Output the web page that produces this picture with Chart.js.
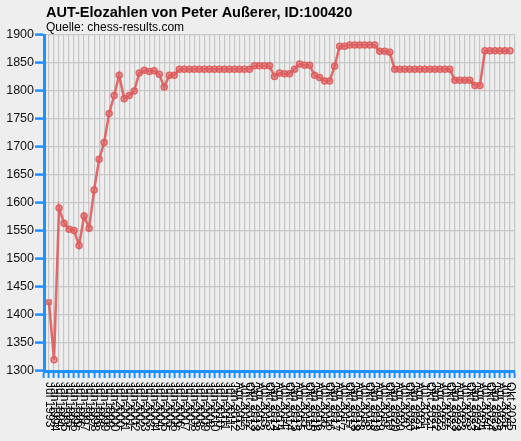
<!DOCTYPE html>
<html>
<head>
<meta charset="utf-8">
<script src="https://cdn.jsdelivr.net/npm/chart.js@4.4.1/dist/chart.umd.min.js"></script>
<style>
  html, body { margin: 0; padding: 0; background: #eeeeee; }
  #wrap { width: 521px; height: 441px; }
</style>
</head>
<body>
<div id="wrap"><canvas id="eloChart" width="521" height="441"></canvas></div>
<script>
const chartTitle = "AUT-Elozahlen von Peter Außerer, ID:100420";
const chartSource = "Quelle: chess-results.com";

const listDates = [
  "Jul 1993", "Jan 1994", "Jul 1994", "Jan 1995", "Jul 1995", "Jan 1996", "Jul 1996",
  "Jan 1997", "Jul 1997", "Jan 1998", "Jul 1998", "Jan 1999", "Jul 1999", "Jan 2000",
  "Jul 2000", "Jan 2001", "Jul 2001", "Jan 2002", "Jul 2002", "Jan 2003", "Jul 2003",
  "Jan 2004", "Jul 2004", "Jan 2005", "Jul 2005", "Jan 2006", "Jul 2006", "Jan 2007",
  "Jul 2007", "Jan 2008", "Jul 2008", "Jan 2009", "Jul 2009", "Jan 2010", "Jul 2010",
  "Jan 2011", "Jul 2011",
  "Jan 2012", "Apr 2012", "Jul 2012", "Okt 2012", "Jan 2013", "Apr 2013", "Jul 2013", "Okt 2013",
  "Jan 2014", "Apr 2014", "Jul 2014", "Okt 2014", "Jan 2015", "Apr 2015", "Jul 2015", "Okt 2015",
  "Jan 2016", "Apr 2016", "Jul 2016", "Okt 2016", "Jan 2017", "Apr 2017", "Jul 2017", "Okt 2017",
  "Jan 2018", "Apr 2018", "Jul 2018", "Okt 2018", "Jan 2019", "Apr 2019", "Jul 2019", "Okt 2019",
  "Jan 2020", "Apr 2020", "Jul 2020", "Okt 2020", "Jan 2021", "Apr 2021", "Jul 2021", "Okt 2021",
  "Jan 2022", "Apr 2022", "Jul 2022", "Okt 2022", "Jan 2023", "Apr 2023", "Jul 2023", "Okt 2023",
  "Jan 2024", "Apr 2024", "Jul 2024", "Okt 2024", "Jan 2025", "Apr 2025", "Jul 2025", "Okt 2025"
];

const eloValues = [
  1423, 1320, 1591, 1564, 1553, 1551, 1524, 1577, 1555, 1623,
  1678, 1708, 1760, 1792, 1828, 1786, 1792, 1800, 1832, 1837,
  1835, 1836, 1830, 1807, 1828, 1828, 1839, 1839, 1839, 1839,
  1839, 1839, 1839, 1839, 1839, 1839, 1839, 1839, 1839, 1839,
  1839, 1845, 1845, 1845, 1845, 1826, 1832, 1831, 1831, 1839,
  1848, 1846, 1846, 1828, 1824, 1818, 1818, 1844, 1880, 1880,
  1882, 1882, 1882, 1882, 1882, 1882, 1871, 1871, 1869, 1839,
  1839, 1839, 1839, 1839, 1839, 1839, 1839, 1839, 1839, 1839,
  1839, 1819, 1819, 1819, 1819, 1810, 1810, 1872, 1872, 1872,
  1872, 1872, 1872
];

const yMin = 1300;
const yMax = 1900;
const yStep = 25;

const blue = "#1e90ff";
const lineRed = "rgba(222, 90, 90, 0.9)";

// title + source line, left aligned with the plot
const headerPlugin = {
  id: "header",
  afterDraw(chart) {
    const c = chart.ctx;
    const left = chart.chartArea.left + 2;
    c.save();
    c.fillStyle = "#000";
    c.textAlign = "left";
    c.textBaseline = "alphabetic";
    c.font = "bold 14.5px 'Liberation Sans', Arial, sans-serif";
    c.fillText(chartTitle, left, 17);
    c.font = "12px 'Liberation Sans', Arial, sans-serif";
    c.fillText(chartSource, left, 31);
    c.restore();
  }
};

// date labels under the x axis, turned to read top-down
const dateLabelPlugin = {
  id: "dateLabels",
  afterDraw(chart) {
    const c = chart.ctx;
    const xs = chart.scales.x;
    const top = chart.chartArea.bottom + 11;
    c.save();
    c.fillStyle = "#000";
    c.font = "12px 'Liberation Sans', Arial, sans-serif";
    c.textAlign = "left";
    c.textBaseline = "middle";
    listDates.forEach((lbl, i) => {
      const px = xs.getPixelForValue(i);
      c.save();
      c.translate(px, top);
      c.rotate(Math.PI / 2);
      c.fillText(lbl, 0, 0);
      c.restore();
    });
    c.restore();
  }
};

const bgPlugin = {
  id: "bg",
  beforeDraw(chart) {
    const c = chart.ctx;
    c.save();
    c.fillStyle = "#eeeeee";
    c.fillRect(0, 0, chart.width, chart.height);
    c.restore();
  }
};

const points = eloValues.map((v, i) => ({ x: i, y: v }));

new Chart(document.getElementById("eloChart"), {
  type: "line",
  data: {
    datasets: [{
      label: "Elo",
      data: points,
      borderColor: lineRed,
      backgroundColor: "rgba(222, 100, 100, 0.55)",
      borderWidth: 2.5,
      pointRadius: 3,
      pointBorderWidth: 1.5,
      pointBorderColor: lineRed,
      pointStyle: (ctx) => ctx.dataIndex === 0 ? "rect" : "circle",
      tension: 0
    }]
  },
  options: {
    responsive: false,
    animation: false,
    devicePixelRatio: 1,
    layout: { padding: { top: 35, right: 6, bottom: 63, left: 0 } },
    plugins: {
      legend: { display: false },
      tooltip: { enabled: false }
    },
    scales: {
      x: {
        type: "linear",
        min: -1,
        max: listDates.length,
        ticks: { stepSize: 1, display: false },
        grid: {
          color: "#c6c6c6",
          lineWidth: 1.2,
          tickColor: blue,
          tickWidth: 2,
          tickLength: 7
        },
        border: { color: blue, width: 3 }
      },
      y: {
        min: yMin,
        max: yMax,
        afterFit(scale) { scale.width = 44; },
        ticks: {
          stepSize: yStep,
          color: "#111",
          padding: 1,
          callback: (v) => String(v),
          font: { family: "'Liberation Sans', Arial, sans-serif", size: 12.5 }
        },
        grid: {
          color: "#c6c6c6",
          lineWidth: 1.2,
          tickColor: blue,
          tickWidth: 2.5,
          tickLength: 9
        },
        border: { color: blue, width: 3 }
      }
    }
  },
  plugins: [bgPlugin, headerPlugin, dateLabelPlugin]
});
</script>
</body>
</html>
